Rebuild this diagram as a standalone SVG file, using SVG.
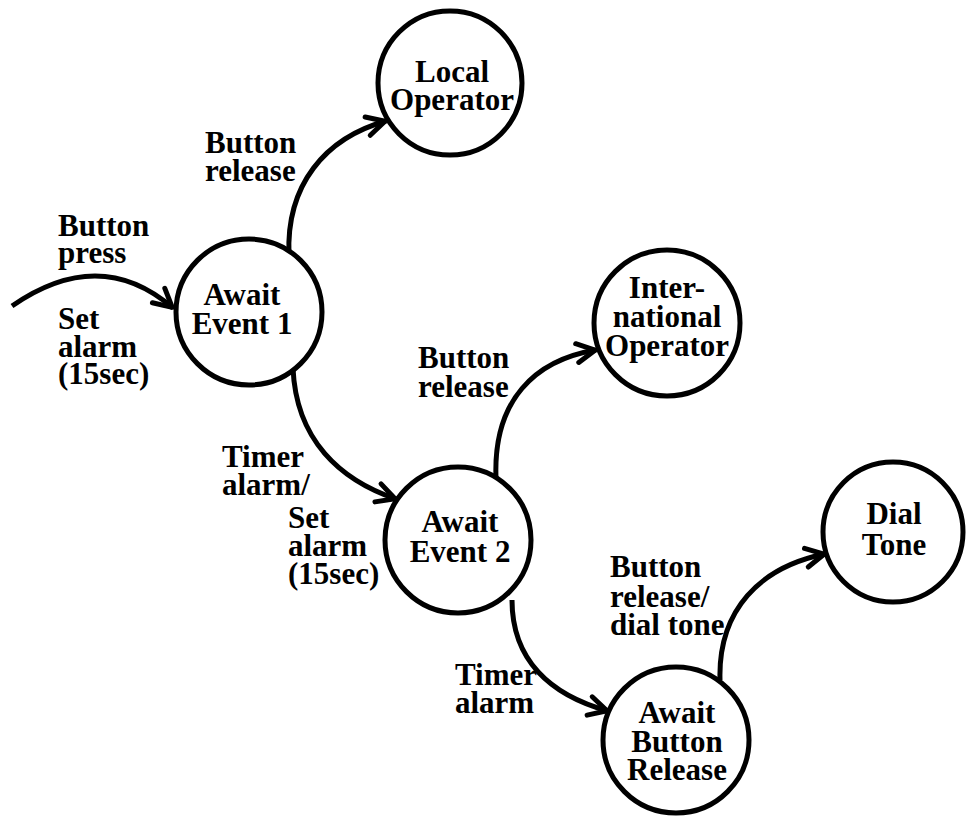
<svg xmlns="http://www.w3.org/2000/svg" width="967" height="820" viewBox="0 0 967 820">
<style>
.node{fill:#fff;stroke:#000;stroke-width:5}
.edge{fill:none;stroke:#000;stroke-width:5;marker-end:url(#arr)}
text{font-family:"Liberation Serif","Times New Roman",serif;font-weight:bold;font-size:31px;fill:#000}
.c{text-anchor:middle}
</style>
<defs>
<marker id="arr" markerUnits="userSpaceOnUse" viewBox="-24 -14 28 28" markerWidth="28" markerHeight="28" refX="0" refY="0" orient="auto" overflow="visible">
<path d="M-19,-9.5 L-1,0 L-19,9.5" fill="none" stroke="#000" stroke-width="5" stroke-linecap="round" stroke-linejoin="round"/>
</marker>
</defs>
<rect width="967" height="820" fill="#fff"/>
<g id="connectors">
<path class="edge" d="M12,306 Q100,245 173,308"/>
<path class="edge" d="M289,255 C286,185 325,138 386,121"/>
<path class="edge" d="M293,368 C296,440 340,480 396,499"/>
<path class="edge" d="M496,478 C493,400 535,360 596,350"/>
<path class="edge" d="M512,600 C512,660 550,695 608,711"/>
<path class="edge" d="M720,680 C718,610 760,567 825,554"/>
</g>
<g id="local">
<circle class="node" cx="450" cy="83" r="72"/>
<text class="c" x="452" y="82">Local</text>
<text class="c" x="452" y="110">Operator</text>
</g>
<g id="event1">
<circle class="node" cx="249" cy="312" r="73"/>
<text class="c" x="242" y="305">Await</text>
<text class="c" x="242" y="334">Event 1</text>
</g>
<g id="intl">
<circle class="node" cx="667" cy="323" r="73"/>
<text class="c" x="667" y="298">Inter-</text>
<text class="c" x="667" y="327">national</text>
<text class="c" x="667" y="356">Operator</text>
</g>
<g id="event2">
<circle class="node" cx="458" cy="540" r="73"/>
<text class="c" x="460" y="532">Await</text>
<text class="c" x="460" y="562">Event 2</text>
</g>
<g id="dial">
<circle class="node" cx="893" cy="532" r="70"/>
<text class="c" x="894" y="524">Dial</text>
<text class="c" x="894" y="555">Tone</text>
</g>
<g id="abr">
<circle class="node" cx="676" cy="740" r="73"/>
<text class="c" x="677" y="723">Await</text>
<text class="c" x="677" y="752">Button</text>
<text class="c" x="677" y="780">Release</text>
</g>
<g id="labels">
<text x="58" y="236">Button</text>
<text x="58" y="263">press</text>
<text x="58" y="329">Set</text>
<text x="58" y="357">alarm</text>
<text x="58" y="384">(15sec)</text>
<text x="205" y="153">Button</text>
<text x="205" y="181">release</text>
<text x="418" y="368">Button</text>
<text x="418" y="397">release</text>
<text x="222" y="467">Timer</text>
<text x="222" y="495">alarm/</text>
<text x="288" y="528">Set</text>
<text x="288" y="556">alarm</text>
<text x="288" y="584">(15sec)</text>
<text x="455" y="685">Timer</text>
<text x="455" y="713">alarm</text>
<text x="610" y="577">Button</text>
<text x="610" y="607">release/</text>
<text x="610" y="635">dial tone</text>
</g>
</svg>
